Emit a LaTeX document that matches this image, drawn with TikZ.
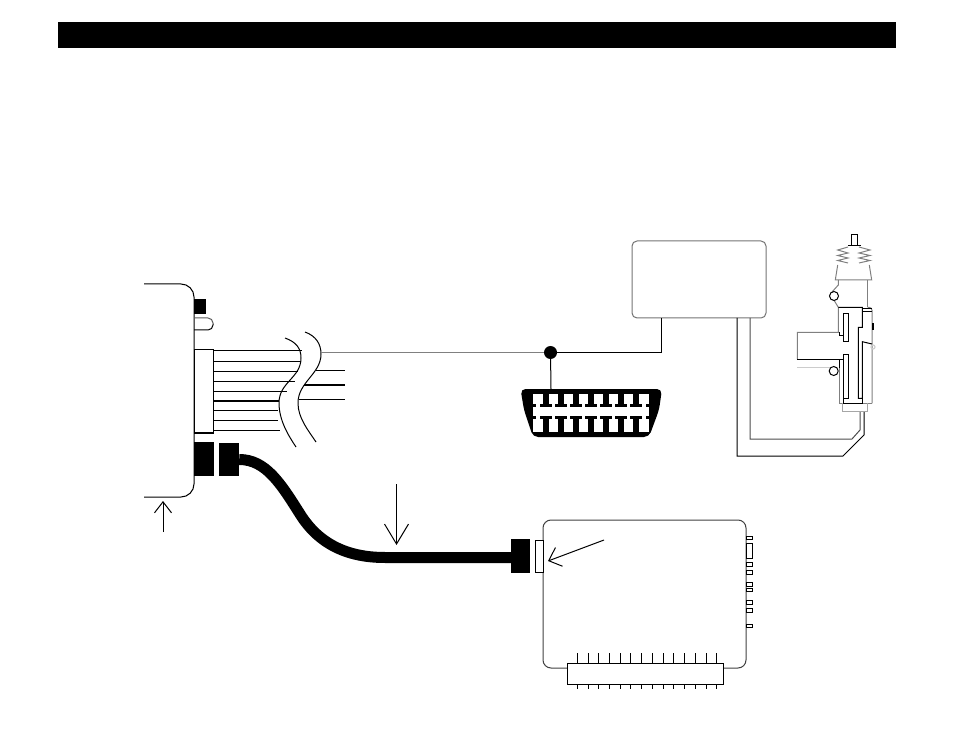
\documentclass[tikz,border=0pt]{standalone}
\usepackage{tikz}
\usetikzlibrary{arrows.meta}
\tikzset{
	plugblock/.style={fill=black,draw=none,inner sep=0pt},
	openbox/.style={draw=black,fill=white,inner sep=0pt},
	barbarrow/.style={-{Straight Barb[length=20pt,width=24pt,line width=1pt]},line width=1pt},
	lightline/.style={draw=black!50,line width=1pt},
	paleline/.style={draw=black!20,line width=1.2pt},
	wire/.style={draw=black,line width=1pt}
}
\begin{document}
\begin{tikzpicture}[x=1pt,y=-1pt]
	\useasboundingbox (0,0) rectangle (954,738);
	\fill[black] (58,22) rectangle (896,48);
	% left module
	\draw[wire,rounded corners=13pt] (144,284) -- (194,284) -- (194,497) -- (144,497);
	\fill[black] (194,299) rectangle (206,314);
	\draw[wire,rounded corners=5pt] (213,324) |- (194,330);
	\draw[wire,draw=black!65,rounded corners=5pt] (194,318) -| (213,324);
	\node[openbox,minimum width=19pt,minimum height=84pt] (harness) at (203.5,391) {};
	\draw[line width=2pt] (harness.south west) -- (harness.south east);
	\foreach \y/\xe in {351/301.7,361/300.7,371/298.3,381/295,391/286.7,410.3/278,420.3/278,430.3/280}
		\draw[wire] (214,\y) -- (\xe,\y);
	\draw[line width=2pt] (214,401) -- (279,401);
	\draw[wire] (316,370) -- (345,370);
	\draw[line width=2pt] (304,385) -- (345,385);
	\draw[wire] (299,399.3) -- (345,399.3);
	\draw[wire] (285,338) .. controls (296,342) and (301,348) .. (301,358) .. controls (301,378) and (279,382) .. (279,403) .. controls (279,420) and (288,435) .. (296,447);
	\draw[wire] (305,332) .. controls (316,336) and (321,344) .. (321,354) .. controls (321,374) and (298,382) .. (298,403) .. controls (298,418) and (308,430) .. (316,442);
	\draw[barbarrow,-{Straight Barb[length=11pt,width=17pt,line width=1pt]}] (163,532) -- (163,501);
	% cable
	\node[plugblock,minimum width=20pt,minimum height=34pt] (plugleft) at (204,459) {};
	\node[plugblock,minimum width=20pt,minimum height=33pt] (plugright) at (229,459.5) {};
	\node[plugblock,minimum width=19pt,minimum height=33.5pt] (plugend) at (520.5,556) {};
	\draw[line width=11pt] (plugright.east) .. controls (266,459.5) and (281,484) .. (300,514) .. controls (320,546) and (350,557.5) .. (385,557.5) -- (plugend.west |- 0,557.5);
	\draw[barbarrow] (396.5,484) -- (396.5,545);
	% lower module
	\draw[lightline,draw=black!75,rounded corners=8pt] (543,520) rectangle (746,668);
	\foreach \y/\h in {536/3.3,543.3/15,562.3/3.7,570.3/3.7,582.7/3.3,588.3/3.4,600.7/3.3,608.3/3.7,624/3.3}
		\draw[wire,fill=white] (746,\y) rectangle (752,\y+\h);
	\node[openbox,minimum width=7.5pt,minimum height=32pt] (socket) at (539,556) {};
	\foreach \i in {0,...,13} {
		\draw[wire] (577.3+10.73*\i,653.3) -- (577.3+10.73*\i,663);
		\draw[wire] (577.3+10.73*\i,684) -- (577.3+10.73*\i,689);
	}
	\node[openbox,minimum width=156pt,minimum height=21pt] (pinstrip) at (645.3,673.6) {};
	\draw[barbarrow,-{Straight Barb[length=11pt,width=20pt,line width=1pt]}] (604,540) -- (548,561);
	% relay box and obd plug
	\node[draw=black!55,line width=1pt,rounded corners=5pt,minimum width=134pt,minimum height=77pt,inner sep=0pt] (relay) at (699,279.5) {};
	\node[circle,fill=black,inner sep=0pt,minimum size=13pt] (junction) at (550.5,352.5) {};
	\coordinate (relayout) at (661.5,318);
	\coordinate (relaylockA) at (737,318);
	\coordinate (relaylockB) at (750,318);
	\draw[lightline] (321,352.5) -- (junction);
	\draw[wire] (junction) -| (relayout);
	\fill[black,rounded corners=5pt] (520.5,389) -- (662,389) -- (659,410) -- (649,437) -- (533,437) -- (524,410) -- cycle;
	\fill[white] (533,394) rectangle (649,432);
	\coordinate (obdtop) at (551,389);
	\draw[wire] (junction) -- (obdtop);
	\foreach \i in {0,...,6} {
		\fill[black] (542.5+15*\i,394) rectangle (549+15*\i,404);
		\fill[black] (540+15*\i,404) rectangle (551.5+15*\i,407);
		\fill[black] (540+15*\i,416) rectangle (551.5+15*\i,419);
		\fill[black] (542.5+15*\i,419) rectangle (549+15*\i,432);
	}
	\fill[black] (533,404) rectangle (536,407);
	\fill[black] (646,404) rectangle (649,407);
	\fill[black] (533,416) rectangle (536,419);
	\fill[black] (646,416) rectangle (649,419);
	% lock actuator
	\coordinate (lockoutA) at (864,412);
	\coordinate (lockoutB) at (860,412);
	\draw[wire] (relaylockA) -- (737,456) -- (843,456) -- (864,435) -- (lockoutA);
	\draw[wire,draw=black!70] (relaylockB) -- (750,439) -- (852,439) -- (860,430) -- (lockoutB);
	\draw[wire] (851.7,245.7) rectangle (857.7,234.3);
	\draw[wire] (848,245.7) -- (861,245.7);
	\draw[lightline] (848,247) -- (837.7,250) -- (848,253) -- (837.7,255.5) -- (848,258) -- (837.7,260.5) -- (848,263);
	\draw[lightline] (859,247) -- (870,250) -- (859,253) -- (870,255.5) -- (859,258) -- (870,260.5) -- (859,263);
	\draw[lightline] (837.7,265) -- (835.3,280) -- (871.7,280) -- (869.3,265);
	\draw[lightline] (838.3,280) -- (838.3,285) -- (832,292);
	\draw[lightline] (834.3,300.7) -- (838.3,307.3) -- (838.3,332.3) -- (797.3,332.3) -- (797.3,359.3);
	\draw[lightline] (867.7,280) -- (867.7,307);
	\draw[lightline,rounded corners=3pt] (867.7,307.3) -- (872,307.3) -- (872,403.3);
	\draw[lightline] (839.3,360) -- (839.3,403.3) -- (872,403.3);
	\draw[wire] (834,296) circle (4.5);
	\draw[wire] (833.7,371) circle (4.5);
	\draw[wire] (838.3,307.3) -- (862.3,307.3) -- (862.3,327.3) -- (858.3,327.3) -- (858.3,398.3) -- (862.3,398.3) -- (862.3,341.7) -- (872,344);
	\draw[wire] (862.3,309) -- (872,309);
	\draw[wire] (862.3,311.7) -- (872,311.7);
	\draw[wire] (839,332.3) -- (839,336) -- (843.3,336);
	\draw[wire] (843.3,313.3) rectangle (848.3,341.7);
	\draw[wire] (843.3,354.3) rectangle (848.3,398.3);
	\draw[wire] (797.3,359.3) -- (843.3,359.3);
	\draw[wire] (839.3,359.3) -- (839.3,367.7);
	\draw[wire] (843.3,398.3) -- (843.3,403.3) -- (862.3,403.3) -- (862.3,398.3);
	\draw[paleline] (797.3,367.7) -- (829.5,367.7);
	\draw[paleline,draw=black!35] (842.3,403.3) -- (842.3,411.7) -- (867.7,411.7) -- (867.7,403.3);
	\fill[black] (872,323) rectangle (873.5,330);
	\draw[paleline] (873,347) circle (2);
\end{tikzpicture}
\end{document}
